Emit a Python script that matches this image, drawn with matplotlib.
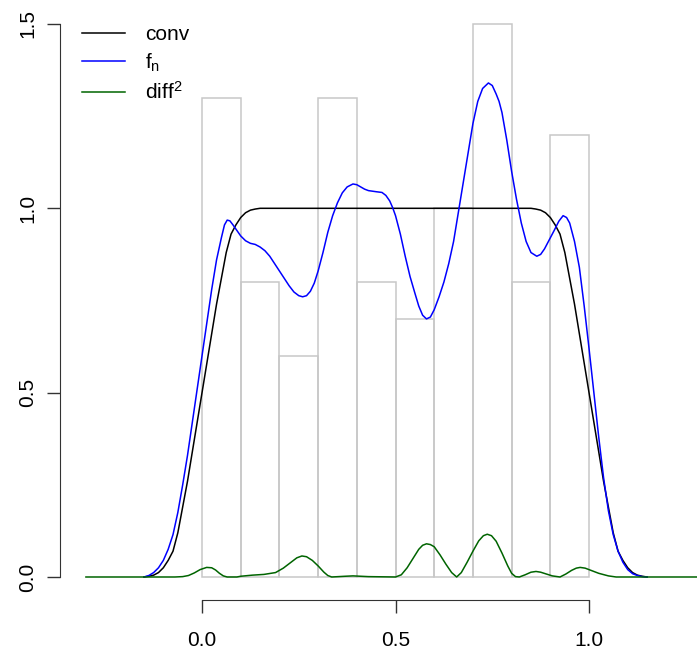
import matplotlib
matplotlib.use("Agg")
import matplotlib.pyplot as plt

plt.rcParams['font.family'] = ['Liberation Sans', 'DejaVu Sans']
plt.rcParams['mathtext.default'] = 'regular'

# histogram bins (width 0.1) and heights
bin_left = [0.0, 0.1, 0.2, 0.3, 0.4, 0.5, 0.6, 0.7, 0.8, 0.9]
bin_height = [1.3, 0.8, 0.6, 1.3, 0.8, 0.7, 1.0, 1.5, 0.8, 1.2]

# conv curve
conv_x = [-0.15, -0.1375, -0.125, -0.1125, -0.10, -0.0875, -0.075, -0.0625,
          -0.05, -0.0375, -0.025, -0.0125, 0.0, 0.0125, 0.025, 0.0375, 0.05,
          0.0625, 0.075, 0.0875, 0.10, 0.1125, 0.125, 0.1375, 0.15,
          0.85, 0.8625, 0.875, 0.8875, 0.90, 0.9125, 0.925, 0.9375, 0.95,
          0.9625, 0.975, 0.9875, 1.0, 1.0125, 1.025, 1.0375, 1.05, 1.0625,
          1.075, 1.0875, 1.10, 1.1125, 1.125, 1.1375, 1.15]
conv_y = [0.0, 0.002, 0.005, 0.012, 0.025, 0.045, 0.07, 0.12,
          0.19, 0.26, 0.34, 0.42, 0.50, 0.58, 0.66, 0.74, 0.81,
          0.88, 0.93, 0.955, 0.975, 0.988, 0.995, 0.998, 1.0,
          1.0, 0.998, 0.995, 0.988, 0.975, 0.955, 0.93, 0.88, 0.81,
          0.74, 0.66, 0.58, 0.50, 0.42, 0.34, 0.26, 0.19, 0.12,
          0.07, 0.045, 0.025, 0.012, 0.005, 0.002, 0.0]

# f_n curve
fn_x = [-0.15, -0.1375, -0.125, -0.1125, -0.10, -0.0875, -0.075, -0.0625,
        -0.05, -0.0375, -0.025, -0.0125, 0.0, 0.0125, 0.025, 0.0375, 0.05,
        0.058, 0.065, 0.072, 0.08, 0.09, 0.10, 0.1125, 0.125, 0.1375, 0.15,
        0.1625, 0.175, 0.1875, 0.20, 0.2125, 0.225, 0.2375, 0.25, 0.26,
        0.27, 0.28, 0.29, 0.30, 0.3125, 0.325, 0.3375, 0.35, 0.3625, 0.375,
        0.39, 0.40, 0.41, 0.42, 0.43, 0.45, 0.465, 0.475, 0.485, 0.4925,
        0.50, 0.5125, 0.525, 0.5375, 0.55, 0.56, 0.57, 0.58, 0.59, 0.60,
        0.6125, 0.625, 0.6375, 0.65, 0.6625, 0.675, 0.6875, 0.70, 0.7125,
        0.725, 0.74, 0.75, 0.76, 0.7675, 0.775, 0.7875, 0.80, 0.8125, 0.825,
        0.8375, 0.85, 0.865, 0.875, 0.885, 0.8975, 0.91, 0.922, 0.933, 0.942,
        0.95, 0.9625, 0.975, 0.9875, 1.0, 1.0125, 1.025, 1.0375, 1.05,
        1.0625, 1.075, 1.0875, 1.10, 1.1125, 1.125, 1.1375, 1.15]
fn_y = [0.0, 0.004, 0.012, 0.025, 0.045, 0.075, 0.115, 0.175,
        0.25, 0.33, 0.42, 0.51, 0.60, 0.69, 0.78, 0.86, 0.92,
        0.955, 0.968, 0.966, 0.955, 0.94, 0.925, 0.912, 0.905, 0.902, 0.895,
        0.885, 0.87, 0.85, 0.83, 0.81, 0.79, 0.773, 0.763, 0.76,
        0.763, 0.775, 0.797, 0.83, 0.88, 0.935, 0.98, 1.015, 1.042, 1.058,
        1.066, 1.064, 1.058, 1.052, 1.048, 1.045, 1.043, 1.035, 1.02, 1.002,
        0.98, 0.93, 0.87, 0.815, 0.77, 0.735, 0.71, 0.70, 0.705, 0.725,
        0.76, 0.80, 0.85, 0.91, 0.99, 1.07, 1.15, 1.23, 1.29,
        1.325, 1.34, 1.333, 1.31, 1.29, 1.26, 1.185, 1.10, 1.025, 0.96,
        0.91, 0.88, 0.87, 0.875, 0.89, 0.915, 0.94, 0.965, 0.98, 0.975,
        0.96, 0.91, 0.84, 0.735, 0.62, 0.50, 0.38, 0.27, 0.18,
        0.115, 0.07, 0.04, 0.02, 0.009, 0.004, 0.001, 0.0]

# squared difference
diff_x = [-0.30, -0.07, -0.05, -0.035, -0.02, -0.005, 0.012, 0.025, 0.035,
          0.045, 0.055, 0.065, 0.09, 0.10, 0.13, 0.16, 0.19, 0.21, 0.23,
          0.245, 0.258, 0.27, 0.285, 0.30, 0.315, 0.325, 0.335, 0.37, 0.39,
          0.41, 0.43, 0.50, 0.515, 0.53, 0.545, 0.56, 0.57, 0.58, 0.59, 0.60,
          0.615, 0.63, 0.645, 0.658, 0.67, 0.685, 0.70, 0.715, 0.727, 0.737,
          0.748, 0.76, 0.775, 0.79, 0.80, 0.81, 0.82, 0.835, 0.85, 0.863,
          0.875, 0.89, 0.905, 0.925, 0.94, 0.955, 0.967, 0.977, 0.99, 1.0,
          1.025, 1.05, 1.07, 1.30]
diff_y = [0.0, 0.0, 0.001, 0.004, 0.011, 0.02, 0.026, 0.025, 0.019,
          0.01, 0.003, 0.0, 0.0, 0.002, 0.005, 0.007, 0.012, 0.024, 0.04,
          0.052, 0.057, 0.055, 0.045, 0.03, 0.013, 0.004, 0.0, 0.002, 0.003,
          0.002, 0.001, 0.0, 0.006, 0.025, 0.05, 0.075, 0.086, 0.09, 0.088, 0.082,
          0.06, 0.035, 0.012, 0.0, 0.012, 0.04, 0.07, 0.098, 0.112, 0.116,
          0.112, 0.097, 0.065, 0.03, 0.01, 0.001, 0.0, 0.006, 0.013, 0.015,
          0.013, 0.008, 0.003, 0.0, 0.008, 0.018, 0.024, 0.026, 0.024, 0.02,
          0.01, 0.003, 0.0, 0.0]

fig = plt.figure(figsize=(6.97, 6.55), dpi=100)
ax = fig.add_axes([60/697, 55/655, 637/697, 600/655])

ax.bar(bin_left, bin_height, width=0.1, align='edge', fill=False,
       edgecolor='#c8c8c8', linewidth=1.1)
ax.plot(conv_x, conv_y, color='black', lw=1.1, label='conv')
ax.plot(fn_x, fn_y, color='#0000ff', lw=1.1, label='$f_n$')
ax.plot(diff_x, diff_y, color='#006400', lw=1.1, label='$diff^2$')

ax.set_xlim(-0.367, 1.279)
ax.set_ylim(-0.0624, 1.565)

for s in ['top', 'right']:
    ax.spines[s].set_visible(False)
ax.spines['left'].set_bounds(0, 1.5)
ax.spines['bottom'].set_bounds(0, 1)
ax.spines['left'].set_color('#333333')
ax.spines['bottom'].set_color('#333333')

ax.set_xticks([0, 0.5, 1.0])
ax.set_xticklabels(['0.0', '0.5', '1.0'])
ax.set_yticks([0, 0.5, 1.0, 1.5])
ax.set_yticklabels(['0.0', '0.5', '1.0', '1.5'], rotation=90, va='center')
ax.tick_params(axis='both', length=9.4, width=1, color='#333333', labelsize=15)
ax.tick_params(axis='x', pad=13)
ax.tick_params(axis='y', pad=7)

ax.legend(loc='upper left', bbox_to_anchor=(82/697, 1 - 25/655),
          bbox_transform=fig.transFigure, frameon=False, fontsize=15,
          borderpad=0, borderaxespad=0, handlelength=2.07,
          handletextpad=0.96, labelspacing=0.36)

plt.savefig('out.png', dpi=100)
